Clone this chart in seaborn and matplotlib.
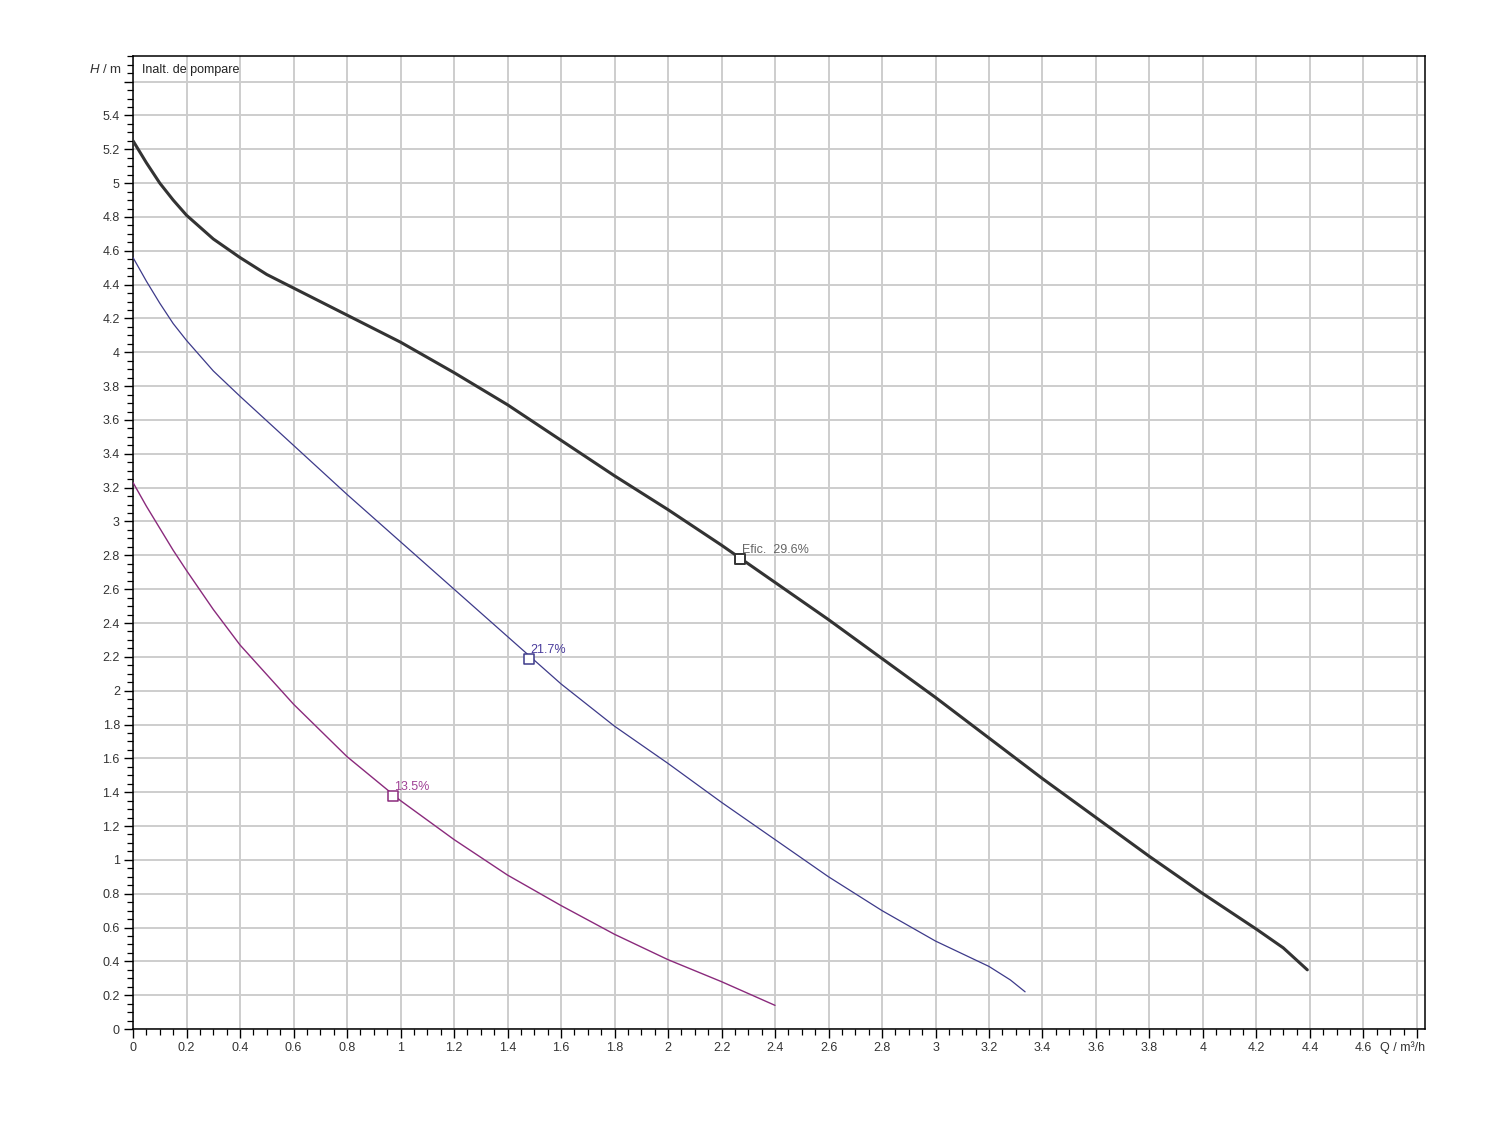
import numpy as np
import pandas as pd
import seaborn as sns
import matplotlib.pyplot as plt
from matplotlib.ticker import MultipleLocator, FixedLocator

# curves (Q in m3/h, H in m)
q_max = [0, 0.05, 0.1, 0.15, 0.2, 0.3, 0.4, 0.5, 0.6, 0.8, 1.0, 1.2, 1.4, 1.6, 1.8, 2.0,
         2.2, 2.4, 2.6, 2.8, 3.0, 3.2, 3.4, 3.6, 3.8, 4.0, 4.2, 4.3, 4.39]
h_max = [5.25, 5.12, 5.00, 4.90, 4.81, 4.67, 4.56, 4.46, 4.38, 4.22, 4.06, 3.88, 3.69, 3.48,
         3.27, 3.07, 2.86, 2.64, 2.42, 2.19, 1.96, 1.72, 1.48, 1.25, 1.02, 0.80, 0.59, 0.48, 0.35]

q_mid = [0, 0.05, 0.1, 0.15, 0.2, 0.3, 0.4, 0.6, 0.8, 1.0, 1.2, 1.4, 1.6, 1.8, 2.0, 2.2,
         2.4, 2.6, 2.8, 3.0, 3.2, 3.28, 3.335]
h_mid = [4.56, 4.42, 4.29, 4.17, 4.07, 3.89, 3.74, 3.45, 3.16, 2.88, 2.60, 2.32, 2.04, 1.79,
         1.57, 1.34, 1.12, 0.90, 0.70, 0.52, 0.37, 0.29, 0.22]

q_min = [0, 0.05, 0.1, 0.15, 0.2, 0.3, 0.4, 0.6, 0.8, 1.0, 1.2, 1.4, 1.6, 1.8, 2.0, 2.2, 2.4]
h_min = [3.23, 3.09, 2.96, 2.83, 2.71, 2.48, 2.27, 1.92, 1.61, 1.35, 1.12, 0.91, 0.73, 0.56,
         0.41, 0.28, 0.14]

# best efficiency points
bep_q = [2.27, 1.48, 0.97]
bep_h = [2.78, 2.19, 1.38]
bep_labels = ['Efic.  29.6%', '21.7%', '13.5%']

colors = ['#333333', '#3d3a8a', '#8a2a7c']
label_colors = ['#666666', '#4a3c9c', '#a04396']
widths = [2.2, 0.9, 1.0]

x_ticks = [0, 0.2, 0.4, 0.6, 0.8, 1, 1.2, 1.4, 1.6, 1.8, 2, 2.2, 2.4, 2.6, 2.8, 3, 3.2, 3.4,
           3.6, 3.8, 4, 4.2, 4.4, 4.6, 4.8]
y_ticks = [0, 0.2, 0.4, 0.6, 0.8, 1, 1.2, 1.4, 1.6, 1.8, 2, 2.2, 2.4, 2.6, 2.8, 3, 3.2, 3.4,
           3.6, 3.8, 4, 4.2, 4.4, 4.6, 4.8, 5, 5.2, 5.4, 5.6]

sns.set_theme(style="ticks")
plt.rcParams['font.family'] = ['Liberation Sans', 'DejaVu Sans']
plt.rcParams['mathtext.fontset'] = 'custom'
plt.rcParams['mathtext.it'] = 'Liberation Sans:italic'
plt.rcParams['mathtext.rm'] = 'Liberation Sans'

fig = plt.figure(figsize=(15, 11.25), dpi=100)
ax = fig.add_axes([0.0887, 0.0853, 0.8613, 0.8647])

curves = [(q_max, h_max), (q_mid, h_mid), (q_min, h_min)]
for i, (q, h) in enumerate(curves):
    sns.lineplot(x=q, y=h, ax=ax, color=colors[i], linewidth=widths[i], sort=False,
                 estimator=None, zorder=3, solid_joinstyle='round', solid_capstyle='round')

for i in range(3):
    sns.scatterplot(x=[bep_q[i]], y=[bep_h[i]], ax=ax, marker='s', s=45, facecolor='white',
                    edgecolor=colors[i], linewidth=1.4 if i == 0 else 1.1, zorder=4)
    ax.annotate(bep_labels[i], (bep_q[i], bep_h[i]), xytext=(1, 2), textcoords='offset points',
                ha='left', va='bottom', fontsize=9, color=label_colors[i], zorder=5)

ax.set_xlim(0, 4.83)
ax.set_ylim(0, 5.75)
ax.xaxis.set_major_locator(FixedLocator(x_ticks))
ax.yaxis.set_major_locator(FixedLocator(y_ticks))
ax.xaxis.set_minor_locator(MultipleLocator(0.05))
ax.yaxis.set_minor_locator(MultipleLocator(0.05))
ax.set_xticklabels([f'{v:g}' for v in x_ticks[:-1]] + [''])
ax.set_yticklabels([f'{v:g}' for v in y_ticks[:-1]] + [''])
ax.tick_params(which='major', direction='out', length=6.5, width=1.0, color='black',
               labelsize=9, labelcolor='#333333', pad=3)
ax.tick_params(which='minor', direction='out', length=4, width=0.9, color='black')

ax.grid(True, which='major', color='#cdcdcd', linewidth=1.4)
ax.set_axisbelow(True)
for s in ax.spines.values():
    s.set_visible(True)
    s.set_color('black')
    s.set_linewidth(1.1)

ax.set_xlabel('')
ax.set_ylabel('')

ax.text(-0.009, 5.67, r'$\it{H}$ / m', transform=ax.get_yaxis_transform(), ha='right',
        va='center', fontsize=9.5, color='#333333')
ax.text(0.007, 5.67, 'Inalt. de pompare', transform=ax.get_yaxis_transform(), ha='left',
        va='center', fontsize=9, color='#222222')
ax.text(1.0, -0.0125, 'Q / m³/h', transform=ax.transAxes, ha='right', va='top',
        fontsize=9, color='#333333')

plt.savefig('out.png', dpi=100)
